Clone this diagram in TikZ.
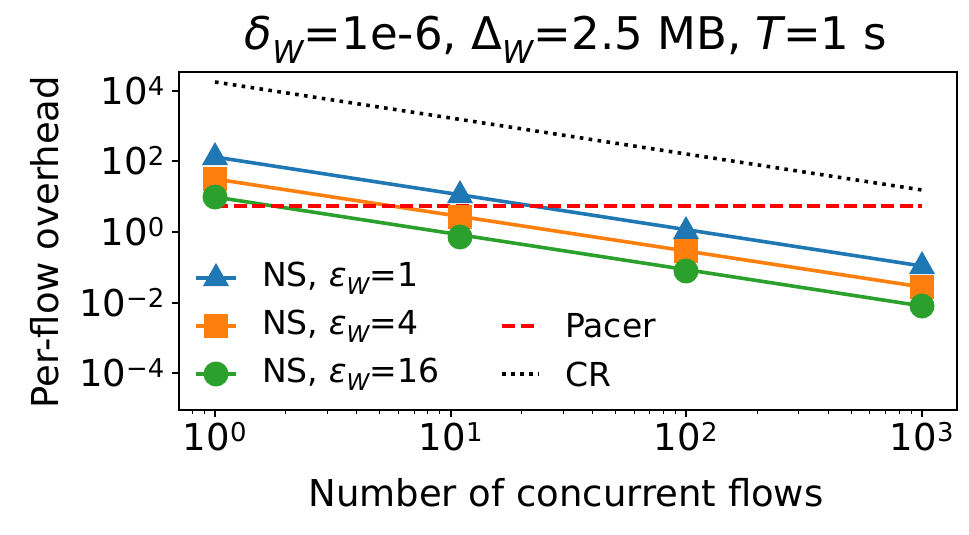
\documentclass[tikz,border=0pt]{standalone}
\usepackage{fontspec}
\setmainfont{DejaVu Sans}
\begin{document}
\begin{tikzpicture}[x=1pt,y=-1pt,
  blu/.style={line width=3.6pt,color={rgb,255:red,31;green,119;blue,180}},
  org/.style={line width=3.6pt,color={rgb,255:red,255;green,127;blue,14}},
  grn/.style={line width=3.6pt,color={rgb,255:red,44;green,160;blue,44}},
  tri/.style={fill={rgb,255:red,31;green,119;blue,180}},
  lbl/.style={font=\fontsize{37}{40}\selectfont,inner sep=0pt},
  leg/.style={font=\fontsize{33}{36}\selectfont,inner sep=0pt,anchor=west}]
\useasboundingbox (0,0) rectangle (969,535);
% CR
\draw[line width=3.6pt,dash pattern=on 3.6pt off 5.4pt] (215,82) -- (922,190);
% lines
\draw[blu] (215,157) -- (922,266);
\draw[org] (215,179) -- (922,287);
\draw[grn] (215,197) -- (922,306);
% Pacer
\draw[red,line width=3.6pt,dash pattern=on 13pt off 5.5pt] (215,206) -- (922,206);
% markers
\foreach \a/\b in {215/157, 460/195, 686/231, 922/266}{\fill[tri] (\a,\b) ++(0,-15) -- ++(13,23) -- ++(-26,0) -- cycle;}
\foreach \a/\b in {215/179, 460/217, 686/251, 922/287}{\fill[color={rgb,255:red,255;green,127;blue,14}] (\a,\b) ++(-12,-12) rectangle ++(24,24);}
\foreach \a/\b in {215/197, 460/237, 686/271, 922/306}{\fill[color={rgb,255:red,44;green,160;blue,44}] (\a,\b) circle (12.5);}
% axes box
\draw[line width=1.8pt] (179,72) rectangle (957,410);
% y ticks
\foreach \yy/\e in {91/4,161/2,232/0,303/−2,373/−4}{
  \draw[line width=1.5pt] (179,\yy) -- (172,\yy);
  \node[lbl,anchor=east] at (165,\yy) {10\textsuperscript{\e}};}
% x ticks
\foreach \xx/\e in {215/0,451/1,686/2,922/3}{
  \draw[line width=1.5pt] (\xx,410) -- (\xx,417);
  \node[lbl,anchor=north] at (\xx,422) {10\textsuperscript{\e}};}
\foreach \d in {0,1,2}{\foreach \m in {2,...,9}{
  \pgfmathsetmacro\xm{215+235.7*(\d+log10(\m))}
  \draw[line width=1.1pt] (\xm,410) -- (\xm,414);}}
\foreach \m in {8,9}{\pgfmathsetmacro\xm{215+235.7*(log10(\m)-1)}\draw[line width=1.1pt] (\xm,410) -- (\xm,414);}
% labels
\node[lbl,anchor=center] (xl) at (566,493) {Number of concurrent flows};
\node[lbl,rotate=90] (yl) at (45,242) {Per-flow overhead};
\node[font=\fontsize{45}{48}\selectfont,inner sep=0pt] (title) at (566,40)
  {{\itshape δ}\textsubscript{\itshape W}=1e-6, Δ\textsubscript{\itshape W}=2.5 MB, {\itshape T}=1 s};
% legend
\draw[blu] (196,278) -- (236,278);
\fill[tri] (216,263) -- ++(13,23) -- ++(-26,0) -- cycle;
\node[leg] (l1) at (262,278) {NS, {\itshape ε}\textsubscript{\itshape W}=1};
\draw[org] (196,326) -- (236,326);
\fill[color={rgb,255:red,255;green,127;blue,14}] (204,314) rectangle ++(24,24);
\node[leg] (l2) at (262,326) {NS, {\itshape ε}\textsubscript{\itshape W}=4};
\draw[grn] (196,374) -- (236,374);
\fill[color={rgb,255:red,44;green,160;blue,44}] (216,374) circle (12.5);
\node[leg] (l3) at (262,374) {NS, {\itshape ε}\textsubscript{\itshape W}=16};
\draw[red,line width=3.6pt,dash pattern=on 13pt off 5.5pt] (502,326) -- (539,326);
\node[leg] (l4) at (565,326) {Pacer};
\draw[line width=3.6pt,dash pattern=on 3.6pt off 5.4pt] (502,374) -- (539,374);
\node[leg] (l5) at (565,374) {CR};
\end{tikzpicture}
\end{document}
